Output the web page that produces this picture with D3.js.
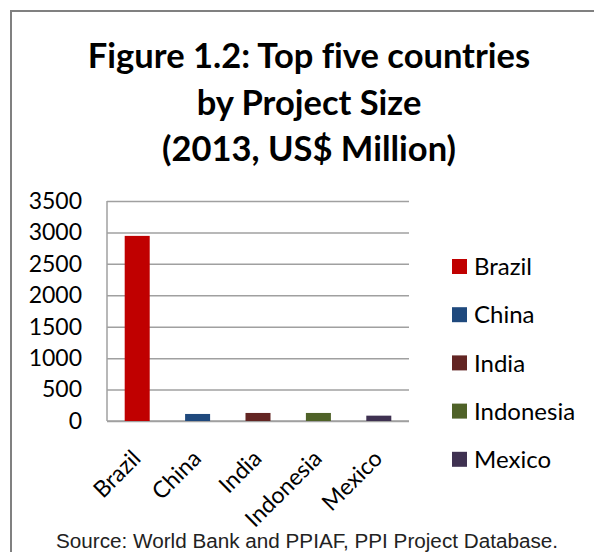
<!DOCTYPE html>
<html lang="en">
<head>
  <meta charset="UTF-8">
  <title>Top five countries by Project Size</title>
  <style>
    body { margin: 0; background: #fff; }
    svg { display: block; }
  </style>
</head>
<body>
  <script src="https://d3js.org/d3.v7.min.js"></script>
  <script>
    // values (US$ million, 2013)
    const countries = ['Brazil', 'China', 'India', 'Indonesia', 'Mexico'];
    const projectSize = [2945, 112, 128, 128, 85];
    const barColors = ['#c00000', '#1f497d', '#632523', '#4f6228', '#3f3151'];
    const yTicks = [0, 500, 1000, 1500, 2000, 2500, 3000, 3500];
    const titleLines = ['Figure 1.2: Top five countries', 'by Project Size', '(2013, US$ Million)'];
    const sourceNote = 'Source:  World Bank and PPIAF, PPI Project Database.';

    const width = 594, height = 552;
    const plot = { left: 107, right: 409, top: 201, bottom: 421 };
    const font = 'Lato, "Open Sans", sans-serif';

    const svg = d3.select('body').append('svg')
      .attr('width', width)
      .attr('height', height);

    // outer frame (only top and left edges fall inside the picture)
    svg.append('path')
      .attr('d', `M11,${height} V11 H${width}`)
      .attr('fill', 'none')
      .attr('stroke', '#808080')
      .attr('stroke-width', 2);

    svg.append('g')
      .selectAll('text')
      .data(titleLines)
      .enter().append('text')
        .attr('x', 309)
        .attr('y', (d, i) => 68 + i * 46.5)
        .attr('text-anchor', 'middle')
        .style('font', `bold 34.5px ${font}`)
        .style('font-variant-ligatures', 'none')
        .attr('fill', '#000')
        .text(d => d);

    const x = d3.scaleBand()
      .domain(countries)
      .range([plot.left, plot.right])
      .paddingInner(0.586)
      .paddingOuter(0.293);

    const y = d3.scaleLinear()
      .domain([0, 3500])
      .range([plot.bottom, plot.top]);

    // gridlines
    svg.append('g')
      .attr('transform', `translate(${plot.left},0)`)
      .call(d3.axisLeft(y).tickValues(yTicks).tickSize(-(plot.right - plot.left)).tickFormat(''))
      .call(g => g.select('.domain').remove())
      .call(g => g.selectAll('line').attr('stroke', '#a0a0a0').attr('stroke-width', 1.5));

    // y tick labels
    svg.append('g')
      .attr('transform', `translate(${plot.left},0)`)
      .call(d3.axisLeft(y).tickValues(yTicks).tickSize(0).tickPadding(25).tickFormat(d3.format('d')))
      .call(g => g.select('.domain').remove())
      .call(g => g.selectAll('text').style('font', `23px ${font}`).attr('fill', '#000'));

    // axis lines
    svg.append('line')
      .attr('x1', plot.left).attr('x2', plot.left)
      .attr('y1', plot.top).attr('y2', plot.bottom)
      .attr('stroke', '#a0a0a0').attr('stroke-width', 1.5);
    svg.append('line')
      .attr('x1', plot.left).attr('x2', plot.right)
      .attr('y1', plot.bottom).attr('y2', plot.bottom)
      .attr('stroke', '#a0a0a0').attr('stroke-width', 1.5);

    // bars
    svg.append('g')
      .selectAll('rect')
      .data(countries)
      .enter().append('rect')
        .attr('x', d => x(d))
        .attr('width', x.bandwidth())
        .attr('y', (d, i) => y(projectSize[i]))
        .attr('height', (d, i) => y(0) - y(projectSize[i]))
        .attr('fill', (d, i) => barColors[i]);

    // rotated category labels
    svg.append('g')
      .selectAll('text')
      .data(countries)
      .enter().append('text')
        .attr('transform', d => `translate(${x(d) + x.bandwidth() / 2 + 5},${plot.bottom + 39}) rotate(-45)`)
        .attr('text-anchor', 'end')
        .style('font', `23px ${font}`)
        .text(d => d);

    // legend
    const legend = svg.append('g')
      .selectAll('g')
      .data(countries)
      .enter().append('g')
        .attr('transform', (d, i) => `translate(452,${266.5 + i * 48.2})`);
    legend.append('rect')
      .attr('y', -7.5)
      .attr('width', 15).attr('height', 15)
      .attr('fill', (d, i) => barColors[i]);
    legend.append('text')
      .attr('x', 22)
      .attr('dy', '0.36em')
      .style('font', `24px ${font}`)
      .text(d => d);

    svg.append('text')
      .attr('x', 56)
      .attr('y', 548)
      .attr('textLength', 502)
      .attr('lengthAdjust', 'spacingAndGlyphs')
      .style('font', '20px "Liberation Sans", Arial, sans-serif')
      .attr('fill', '#222')
      .text(sourceNote);
  </script>
</body>
</html>
